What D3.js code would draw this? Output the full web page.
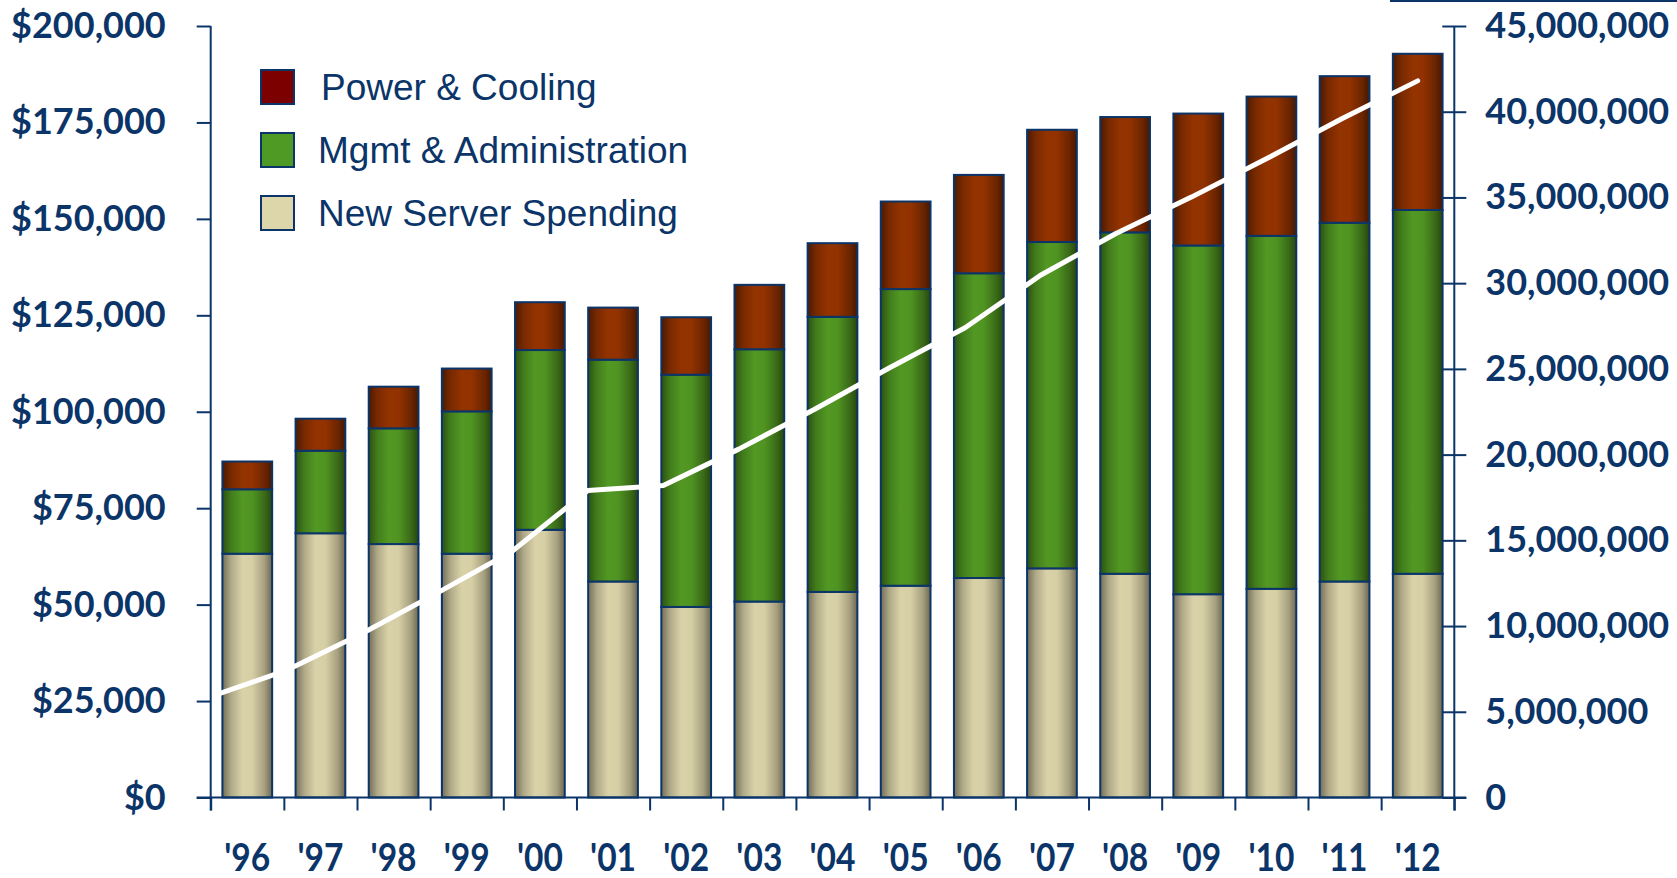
<!DOCTYPE html>
<html>
<head>
<meta charset="utf-8">
<script src="https://cdn.jsdelivr.net/npm/d3@7"></script>
<style>
  body { margin: 0; background: #fff; }
  svg { display: block; }
</style>
</head>
<body>
<svg id="chart" width="1677" height="878"></svg>
<script>
(function (d3) {
  'use strict';

  // chart values
  const years = ["'96", "'97", "'98", "'99", "'00", "'01", "'02", "'03", "'04", "'05", "'06", "'07", "'08", "'09", "'10", "'11", "'12"];
  const newServer = [63200, 68500, 65700, 63200, 69400, 56000, 49400, 50800, 53300, 54900, 56900, 59400, 58000, 52700, 54100, 56000, 58000];
  const mgmtAdmin = [16700, 21400, 30000, 36900, 46600, 57500, 60200, 65400, 71300, 76900, 79000, 84600, 88500, 90400, 91500, 93000, 94300];
  const powerCooling = [7200, 8300, 10800, 11100, 12400, 13500, 14900, 16700, 19100, 22700, 25500, 29100, 29900, 34200, 36100, 38000, 40500];
  const installedBase = [5880000, 7410000, 9550000, 11920000, 14380000, 17900000, 18200000, 20320000, 22630000, 25070000, 27400000, 30460000, 32900000, 35020000, 37270000, 39600000, 41800000];
  const leftTicks = [0, 25000, 50000, 75000, 100000, 125000, 150000, 175000, 200000];
  const rightTicks = [0, 5000000, 10000000, 15000000, 20000000, 25000000, 30000000, 35000000, 40000000, 45000000];
  const seriesNames = ['Power & Cooling', 'Mgmt & Administration', 'New Server Spending'];

  const navy = '#0b3468';
  const svg = d3.select('#chart');

  const left = 210.7, right = 1454.3, top = 26, bottom = 797.5;

  const x = d3.scaleBand().domain(years).range([left, right]).paddingInner(0.32).paddingOuter(0.16);
  const xEdge = d3.scaleLinear().domain([0, years.length]).range([left, right]);
  const xLine = d3.scalePoint().domain(years).range([left, x(years[years.length - 1]) + x.bandwidth() / 2]);
  const yL = d3.scaleLinear().domain([0, 200000]).range([bottom, top]);
  const yR = d3.scaleLinear().domain([0, 45000000]).range([bottom, top]);

  // gradients for the cylinder look
  const defs = svg.append('defs');
  const grads = {
    tan: ['#726e58', '#aea887', '#d9d2a8', '#d6cfa5', '#a59f7f', '#6b6751'],
    green: ['#2d5011', '#417c1c', '#529823', '#4f9421', '#3a6a18', '#27450e'],
    brown: ['#4a1a02', '#782900', '#933300', '#923200', '#6c2500', '#461800']
  };
  const offs = [0, 0.17, 0.4, 0.6, 0.85, 1];
  Object.keys(grads).forEach(k => {
    const g = defs.append('linearGradient').attr('id', 'g-' + k).attr('x1', 0).attr('x2', 1).attr('y1', 0).attr('y2', 0);
    grads[k].forEach((c, i) => g.append('stop').attr('offset', offs[i]).attr('stop-color', c));
  });

  const rows = years.map((yr, i) => ({ year: yr, server: newServer[i], mgmt: mgmtAdmin[i], power: powerCooling[i] }));
  const stack = d3.stack().keys(['server', 'mgmt', 'power'])(rows);
  const fills = { server: 'url(#g-tan)', mgmt: 'url(#g-green)', power: 'url(#g-brown)' };

  svg.append('g').selectAll('g').data(stack).join('g')
      .attr('fill', d => fills[d.key])
    .selectAll('rect').data(d => d).join('rect')
      .attr('x', d => x(d.data.year))
      .attr('width', x.bandwidth())
      .attr('y', d => yL(d[1]))
      .attr('height', d => yL(d[0]) - yL(d[1]))
      .attr('stroke', navy)
      .attr('stroke-width', 2);

  // white line on the right axis
  svg.append('path')
    .datum(installedBase)
    .attr('fill', 'none')
    .attr('stroke', '#fff')
    .attr('stroke-width', 5)
    .attr('stroke-linecap', 'round')
    .attr('stroke-linejoin', 'round')
    .attr('d', d3.line().x((d, i) => xLine(years[i])).y(d => yR(d)));

  const labelFont = 'Lato, "Open Sans", sans-serif';

  // left axis
  const gl = svg.append('g').attr('transform', `translate(${left},0)`)
    .call(d3.axisLeft(yL).tickValues(leftTicks).tickSize(14).tickPadding(31)
      .tickFormat(d => '$' + d3.format(',')(d)));
  gl.select('.domain').remove();
  gl.append('line').attr('y1', top).attr('y2', bottom + 13).attr('stroke', navy).attr('stroke-width', 2);

  // right axis
  const gr = svg.append('g').attr('transform', `translate(${right},0)`)
    .call(d3.axisRight(yR).tickValues(rightTicks).tickSize(12).tickPadding(19)
      .tickFormat(d3.format(',')));
  gr.select('.domain').remove();
  gr.selectAll('.tick line').attr('x1', -12);
  gr.append('line').attr('y1', top).attr('y2', bottom + 13).attr('stroke', navy).attr('stroke-width', 2);

  [gl, gr].forEach(g => {
    g.selectAll('.tick line').attr('stroke', navy).attr('stroke-width', 2);
    g.selectAll('.tick text')
      .attr('fill', navy)
      .style('font-family', labelFont)
      .style('font-weight', 700)
      .style('font-size', '36px');
  });

  // bottom axis: ticks on band edges, labels at band centres
  const gx = svg.append('g').attr('transform', `translate(0,${bottom})`)
    .call(d3.axisBottom(xEdge).tickValues(d3.range(years.length + 1)).tickSize(13).tickFormat(''));
  gx.select('.domain').remove();
  gx.selectAll('.tick line').attr('stroke', navy).attr('stroke-width', 2);
  gx.append('line').attr('x1', left - 14).attr('x2', right + 12).attr('stroke', navy).attr('stroke-width', 2);

  const gxl = svg.append('g').attr('transform', `translate(0,${bottom})`)
    .call(d3.axisBottom(x).tickSize(0).tickPadding(0));
  gxl.select('.domain').remove();
  gxl.selectAll('.tick text')
    .attr('y', 0)
    .attr('dy', 0)
    .attr('fill', navy)
    .style('font-family', labelFont)
    .style('font-weight', 700)
    .style('font-size', '39px')
    .attr('transform', 'translate(0,73) scale(0.86,1)');

  // legend
  const legendColors = ['#7c0000', '#4f9a24', '#ddd6ab'];
  const legendY = [70, 133, 196];
  const legendTextX = [321, 318, 318];
  const lg = svg.append('g');
  seriesNames.forEach((name, i) => {
    lg.append('rect').attr('x', 261).attr('y', legendY[i]).attr('width', 33).attr('height', 34)
      .attr('fill', legendColors[i]).attr('stroke', navy).attr('stroke-width', 2);
    lg.append('text').attr('x', legendTextX[i]).attr('y', legendY[i] + 17).attr('dy', '0.35em')
      .attr('fill', navy)
      .style('font-family', '"Liberation Sans", Arial, sans-serif')
      .style('font-size', '37px')
      .text(name);
  });

  // thin rule at top right of the slide
  svg.append('line').attr('x1', 1390).attr('x2', 1677).attr('y1', 1).attr('y2', 1)
    .attr('stroke', navy).attr('stroke-width', 2);

}(d3));
</script>
</body>
</html>
